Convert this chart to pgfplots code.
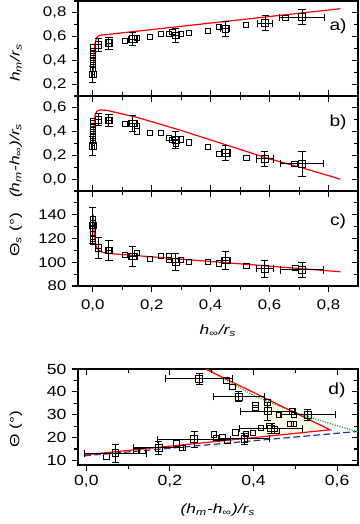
\documentclass[border=0pt]{standalone}
\usepackage{fontspec}
\setmainfont{Liberation Sans}
\newfontfamily\lab{Liberation Serif}
\usepackage{pgfplots}
\pgfplotsset{compat=1.18}

\definecolor{fitred}{RGB}{255,0,0}
\definecolor{fitgreen}{RGB}{30,170,30}
\definecolor{fitblue}{RGB}{35,55,145}
\definecolor{fillyel}{RGB}{255,253,232}

% labels
\newcommand{\sub}[1]{\textsubscript{#1}}
\newcommand{\hinf}{h\sub{\textup{∞}}}

\tikzset{plab/.style={font=\fontsize{12}{14}\selectfont, xscale=1.2}}

\pgfplotsset{
  panel/.style={
    scale only axis, width=210pt, height=71.25pt,
    axis line style={line width=0.8pt},
    tick style={black, line width=0.8pt},
    major tick length=4.5pt, minor tick length=3pt,
    tick align=outside, xtick pos=bottom, ytick pos=left,
    tick label style={font=\fontsize{10.5}{12}\selectfont, xscale=1.2},
    /pgf/number format/assume math mode=true,
    /pgf/number format/use comma,
    label style={font=\fontsize{13}{15}\selectfont\lab},
  },
  ylab/.style={every axis y label/.style={at={(axis description cs:-0.222,#1)}, rotate=90, xscale=1.3, anchor=center}},
  xlab/.style={every axis x label/.style={at={(axis description cs:0.5,#1)}, xscale=1.3, anchor=center}},
  topx/.style={xmin=-0.05, xmax=0.9, xtick={0,0.2,0.4,0.6,0.8}, minor xtick={0.1,0.3,0.5,0.7}},
  dec/.style={/pgf/number format/.cd, fixed, fixed zerofill, precision=1},
  ovl/.style={scale only axis, width=210pt, height=71.25pt,
    tick style={black, line width=0.8pt},
    major tick length=4.5pt, minor tick length=3pt,
    xticklabels={}, yticklabels={}},
  errpts/.style={only marks, mark=square, mark size=2.5pt,
    mark options={fill=white, line width=0.7pt, black},
    error bars/.cd, x dir=both, x explicit, y dir=both, y explicit,
    error bar style={line width=0.7pt, black},
    error mark options={rotate=90, mark size=2.7pt, line width=0.7pt, black}},
  pts/.style={only marks, mark=square, mark size=2pt, mark options={fill=white, line width=0.7pt, black}},
  fit/.style={fitred, line width=0.9pt},
}

\begin{document}
\begin{tikzpicture}
\useasboundingbox (0,0) rectangle (270pt,393pt);

% ---------------- a) ----------------
\begin{axis}[panel, topx, at={(58.5pt,321pt)}, anchor=south west,
  ymin=0.1, ymax=0.9, ytick={0.2,0.4,0.6,0.8}, minor ytick={0.1,0.3,0.5,0.7,0.9},
  xticklabels={}, yticklabel style={dec},
  ylab=0.35, ylabel={\itshape h\sub{m}/r\sub{s}}]
\addplot[fit] coordinates {(0.002,0.30) (0.004,0.45) (0.008,0.55) (0.014,0.595) (0.025,0.612) (0.05,0.618) (0.84,0.835)};
\addplot[pts] coordinates {
  (0.0,0.33) (0.0,0.36) (0.0,0.39) (0.0,0.42) (0.0,0.45) (0.0,0.48) (0.0,0.51)
  (0.11,0.566) (0.151,0.59) (0.195,0.598) (0.232,0.62) (0.258,0.622) (0.271,0.64)
  (0.30,0.62) (0.327,0.633) (0.392,0.648) (0.429,0.68) (0.521,0.70) (0.654,0.755)};
\addplot[errpts] coordinates {
  (0.0,0.28) +- (0.005,0.065)
  (0.02,0.53) +- (0.01,0.055)
  (0.055,0.545) +- (0.01,0.05)
  (0.136,0.578) +- (0.015,0.055)
  (0.282,0.61) +- (0.01,0.057)
  (0.45,0.665) +- (0.015,0.06)
  (0.585,0.713) +- (0.025,0.065)
  (0.71,0.764) +- (0.076,0.065)};
\node[plab] at (rel axis cs:0.929,0.737) {a)};
\end{axis}
\begin{axis}[ovl, topx, at={(58.5pt,321pt)}, anchor=south west,
  ymin=0.1, ymax=0.9, ytick={0.2,0.4,0.6,0.8}, minor ytick={0.1,0.3,0.5,0.7,0.9},
  axis x line=none, axis y line*=right, tick align=inside]
\end{axis}

% ---------------- b) ----------------
\begin{axis}[panel, topx, at={(58.5pt,249.75pt)}, anchor=south west,
  ymin=-0.1, ymax=0.7, ytick={0,0.2,0.4,0.6}, minor ytick={-0.1,0.1,0.3,0.5,0.7},
  xticklabels={}, yticklabel style={dec},
  ylab=0.32, ylabel={\itshape (h\sub{m}-\hinf)/r\sub{s}}]
\addplot[fit] coordinates {(0.002,0.30) (0.004,0.45) (0.008,0.54) (0.015,0.575) (0.027,0.583) (0.05,0.578)
  (0.15,0.52) (0.3,0.41) (0.45,0.29) (0.6,0.17) (0.71,0.095) (0.84,0.0)};
\addplot[pts] coordinates {
  (0.0,0.32) (0.0,0.35) (0.0,0.38) (0.0,0.41) (0.0,0.44) (0.0,0.47) (0.0,0.49)
  (0.11,0.467) (0.151,0.45) (0.151,0.40) (0.195,0.389) (0.232,0.389) (0.258,0.345)
  (0.271,0.33) (0.282,0.30) (0.30,0.335) (0.327,0.31) (0.392,0.27) (0.429,0.21)
  (0.522,0.18) (0.684,0.13)};
\addplot[errpts] coordinates {
  (0.0,0.28) +- (0.005,0.08)
  (0.02,0.50) +- (0.01,0.05)
  (0.055,0.495) +- (0.01,0.05)
  (0.136,0.47) +- (0.015,0.07)
  (0.282,0.33) +- (0.01,0.07)
  (0.451,0.22) +- (0.015,0.06)
  (0.584,0.17) +- (0.03,0.065)
  (0.71,0.13) +- (0.073,0.105)};
\node[plab] at (rel axis cs:0.929,0.726) {b)};
\end{axis}
\begin{axis}[ovl, topx, at={(58.5pt,249.75pt)}, anchor=south west,
  ymin=-0.1, ymax=0.7, ytick={0,0.2,0.4,0.6}, minor ytick={-0.1,0.1,0.3,0.5,0.7},
  axis x line=none, axis y line*=right, tick align=inside]
\end{axis}
\begin{axis}[ovl, topx, at={(58.5pt,249.75pt)}, anchor=south west,
  ymin=-0.1, ymax=0.7, axis y line=none, axis x line*=top, tick align=outside]
\end{axis}

% ---------------- c) ----------------
\begin{axis}[panel, topx, at={(58.5pt,178.5pt)}, anchor=south west,
  ymin=80, ymax=160, ytick={80,100,120,140}, minor ytick={90,110,130,150},
  xticklabel style={yshift=-2.5pt, dec},
  ylab=0.54, ylabel={\textup{Θ}\sub{\itshape s} \textup{(°)}},
  xlab=-0.47, xlabel={\itshape \hinf/r\sub{s}}]
\addplot[fit] coordinates {(0.002,140) (0.004,128) (0.007,119) (0.012,113) (0.02,110) (0.035,108.2) (0.06,107.3) (0.84,92)};
\addplot[pts] coordinates {
  (0.0,136) (0.0,133) (0.0,128) (0.0,124) (0.0,120) (0.0,117)
  (0.11,106) (0.151,108) (0.195,102.5) (0.232,105.4) (0.258,105) (0.258,102)
  (0.30,102) (0.327,100.5) (0.392,100.3) (0.429,99) (0.522,97) (0.688,95)};
\addplot[errpts] coordinates {
  (0.0,131) +- (0.007,15)
  (0.02,112) +- (0.01,9)
  (0.055,110) +- (0.01,8.5)
  (0.136,105) +- (0.015,8.5)
  (0.282,100) +- (0.012,7)
  (0.451,101.4) +- (0.015,7.5)
  (0.584,94.5) +- (0.03,7)
  (0.71,93.5) +- (0.073,6.5)};
\node[plab] at (rel axis cs:0.929,0.684) {c)};
\end{axis}
\begin{axis}[ovl, topx, at={(58.5pt,178.5pt)}, anchor=south west,
  ymin=80, ymax=160, ytick={80,100,120,140}, minor ytick={90,110,130,150},
  axis x line=none, axis y line*=right, tick align=inside]
\end{axis}
\begin{axis}[ovl, topx, at={(58.5pt,178.5pt)}, anchor=south west,
  ymin=80, ymax=160, axis y line=none, axis x line*=top, tick align=outside]
\end{axis}

% ---------------- d) ----------------
\begin{axis}[panel, at={(58.5pt,44.25pt)}, anchor=south west, height=72pt,
  xmin=-0.02, xmax=0.65, xtick={0,0.2,0.4,0.6}, minor xtick={0.1,0.3,0.5},
  ymin=8, ymax=50, ytick={10,20,30,40,50}, minor ytick={15,25,35,45},
  xticklabel style={dec},
  tick label style={font=\fontsize{11}{13}\selectfont},
  ylab=0.37, ylabel={\textup{Θ (°)}},
  xlab=-0.47, xlabel={\itshape (h\sub{m}-\hinf)/r\sub{s}}]
\addplot[draw=none, fill=fillyel] coordinates {(0.42,20.3) (0.583,23.4) (0.42,38.0)} -- cycle;
\addplot[fitblue, line width=0.9pt, dash pattern=on 5pt off 2.5pt] coordinates {(-0.005,12.0) (0.65,22.7)};
\addplot[fitgreen, line width=0.9pt, densely dotted] coordinates {
  (0.29,50) (0.35,43.5) (0.40,38.5) (0.45,34.5) (0.50,31) (0.55,28) (0.60,25.2) (0.655,22.2)};
\addplot[fit] coordinates {(-0.005,12.4) (0.583,23.4) (0.285,50)};
\addplot[pts] coordinates {
  (0.048,11.7) (0.118,14.0) (0.134,14.0) (0.216,17.4) (0.23,15.5)
  (0.305,21.4) (0.31,19.8) (0.326,20.0) (0.338,18.6) (0.357,22.2) (0.382,21.6)
  (0.398,21.9) (0.418,24.3) (0.438,25.1) (0.45,23.8) (0.456,23.0) (0.488,25.9) (0.497,25.9)
  (0.335,45.0) (0.35,42.2) (0.405,34.4) (0.405,32.9) (0.433,35.3) (0.461,30.0)
  (0.493,31.4) (0.497,29.9)};
\addplot[errpts] coordinates {
  (0.07,13.2) +- (0.075,4)
  (0.173,15.5) +- (0.06,3)
  (0.258,19.3) +- (0.088,3.5)
  (0.27,45.7) +- (0.08,2.3)
  (0.365,37.9) +- (0.061,2.2)
  (0.378,19.5) +- (0.06,2.5)
  (0.434,31.5) +- (0.065,4)
  (0.442,24.0) +- (0.076,2.0)
  (0.53,30.0) +- (0.065,2.5)};
\node[plab] at (rel axis cs:0.925,0.78) {d)};
\end{axis}
\begin{axis}[ovl, at={(58.5pt,44.25pt)}, anchor=south west, height=72pt,
  xmin=-0.02, xmax=0.65, xtick={0,0.2,0.4,0.6}, minor xtick={0.1,0.3,0.5},
  ymin=8, ymax=50, ytick={10,20,30,40,50}, minor ytick={15,25,35,45},
  axis line style={draw=none}, xtick pos=top, ytick pos=right, tick align=inside]
\end{axis}
\end{tikzpicture}
\end{document}
